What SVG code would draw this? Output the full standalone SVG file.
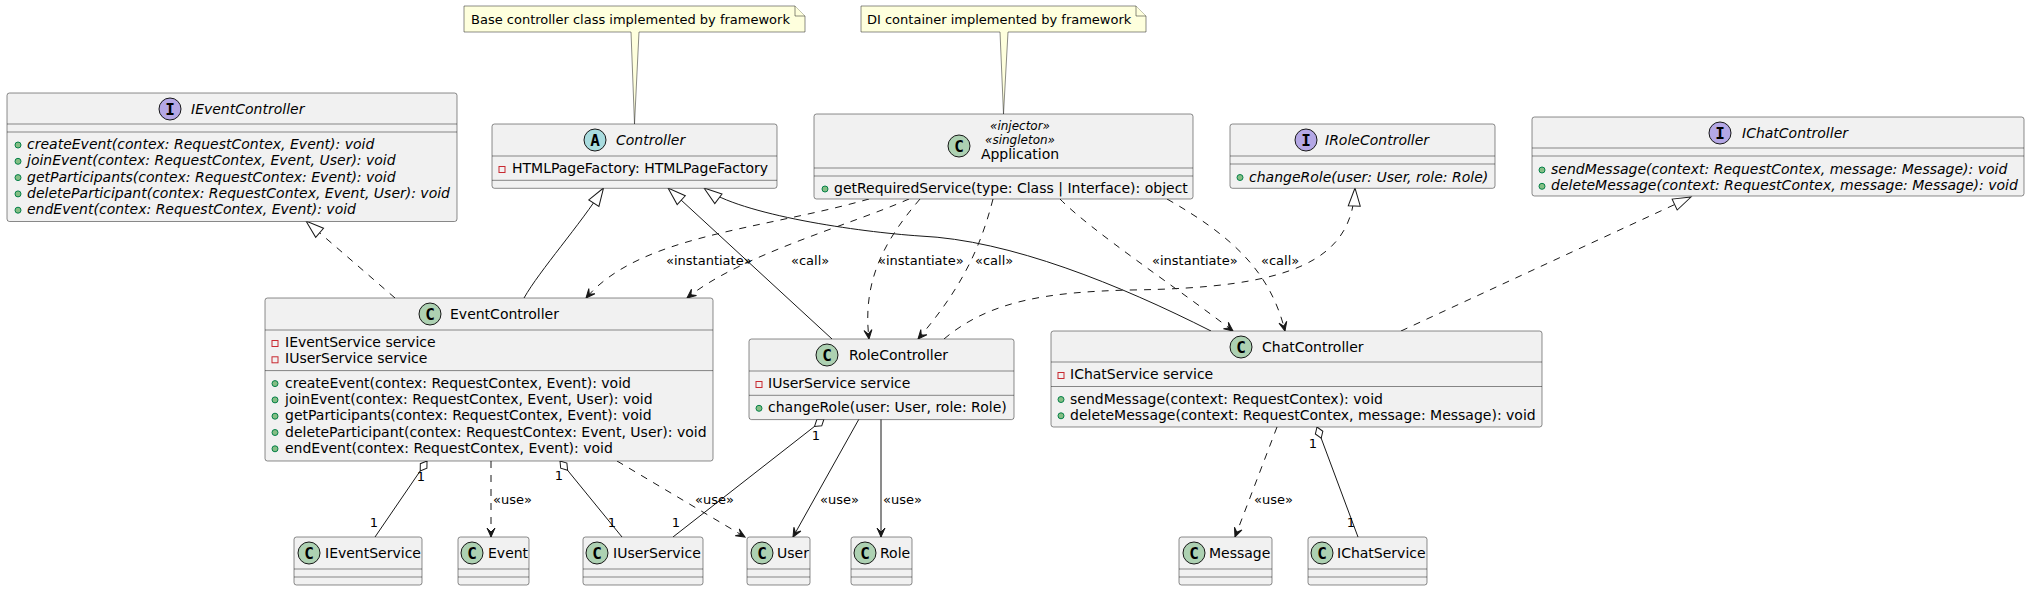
<svg xmlns="http://www.w3.org/2000/svg" width="2029" height="591" viewBox="0 0 2029 591">
<style>
text{font-family:"DejaVu Sans","Liberation Sans",sans-serif;fill:#000000}
.box{fill:#F1F1F1;stroke:#181818;stroke-width:0.5}
.dv{stroke:#181818;stroke-width:0.5}
.nm{font-size:14px}
.it{font-style:italic}
.mem{font-size:14px}
.st{font-size:12px;font-style:italic}
.lbl{font-size:13px}
.one{font-size:13px;text-anchor:middle}
.note{fill:#FEFFDD;stroke:#181818;stroke-width:0.5}
.nt{font-size:13px}
.e{fill:none;stroke:#181818;stroke-width:1}
.d{stroke-dasharray:7,7}
.pub{fill:#84BE84;stroke:#038048;stroke-width:1}
.prv{fill:none;stroke:#C82930;stroke-width:1}
.cc{fill:#ADD1B2;stroke:#181818;stroke-width:1}
.ci{fill:#B4A7E5;stroke:#181818;stroke-width:1}
.ca{fill:#A9DCDF;stroke:#181818;stroke-width:1}
.g{font-family:"DejaVu Sans Mono",monospace;font-weight:bold;font-size:16px;text-anchor:middle}
.ctr{text-anchor:middle}
</style>
<defs>
<marker id="dep" orient="auto" markerUnits="userSpaceOnUse" markerWidth="1" markerHeight="1" style="overflow:visible"><path d="M0,0 L-9,-4 L-5,0 L-9,4 Z" fill="#181818" stroke="#181818" stroke-width="1"/></marker>
<marker id="ext" orient="auto" markerUnits="userSpaceOnUse" markerWidth="1" markerHeight="1" style="overflow:visible"><path d="M0,0 L-18,-6 L-18,6 Z" fill="#FFFFFF" stroke="#181818" stroke-width="1"/></marker>
<marker id="agg" orient="auto" markerUnits="userSpaceOnUse" markerWidth="1" markerHeight="1" style="overflow:visible"><path d="M0,0 L6,-4 L12,0 L6,4 Z" fill="#FFFFFF" stroke="#181818" stroke-width="1"/></marker>
</defs>
<rect width="2029" height="591" fill="#FFFFFF"/>

<g id="connectors">
<path class="e d" d="M395,298 L306,221" marker-end="url(#ext)"/>
<path class="e d" d="M944,339 C990,300 1050,292 1130,290 C1290,288 1352,262 1355,188" marker-end="url(#ext)"/>
<path class="e d" d="M1401,331 L1691,197" marker-end="url(#ext)"/>
<path class="e" d="M524,298 C540,270 580,225 603.5,188" marker-end="url(#ext)"/>
<path class="e" d="M832,339 L668,188" marker-end="url(#ext)"/>
<path class="e" d="M1211,331 C1120,285 1010,240 920,236 C860,232 740,215 704,188" marker-end="url(#ext)"/>
<path class="e d" d="M869,199 C760,230 640,235 586,298" marker-end="url(#dep)"/>
<path class="e d" d="M909,199 C850,225 740,255 687,298" marker-end="url(#dep)"/>
<path class="e d" d="M920,199 C885,240 862,280 869,339" marker-end="url(#dep)"/>
<path class="e d" d="M993,199 C980,250 960,290 918,339" marker-end="url(#dep)"/>
<path class="e d" d="M1060,199 C1090,230 1180,290 1233,331" marker-end="url(#dep)"/>
<path class="e d" d="M1167,199 C1230,235 1270,270 1285,331" marker-end="url(#dep)"/>
<path class="e d" d="M491,461 L491,537" marker-end="url(#dep)"/>
<path class="e d" d="M617,461 L745,537" marker-end="url(#dep)"/>
<path class="e" d="M859,419 L793,537" marker-end="url(#dep)"/>
<path class="e" d="M881,419 L881,537" marker-end="url(#dep)"/>
<path class="e d" d="M1277,427 L1235,537" marker-end="url(#dep)"/>
<path class="e" d="M427,461 L375,537" marker-start="url(#agg)"/>
<path class="e" d="M560,461 L622,537" marker-start="url(#agg)"/>
<path class="e" d="M824,419 L673,537" marker-start="url(#agg)"/>
<path class="e" d="M1317,427 L1358,537" marker-start="url(#agg)"/>
<text class="lbl" x="666" y="264.5">«instantiate»</text>
<text class="lbl" x="791" y="264.5">«call»</text>
<text class="lbl" x="878" y="264.5">«instantiate»</text>
<text class="lbl" x="975" y="264.5">«call»</text>
<text class="lbl" x="1152" y="264.5">«instantiate»</text>
<text class="lbl" x="1261" y="264.5">«call»</text>
<text class="lbl" x="493" y="503.5">«use»</text>
<text class="lbl" x="695" y="503.5">«use»</text>
<text class="lbl" x="820" y="503.5">«use»</text>
<text class="lbl" x="883" y="503.5">«use»</text>
<text class="lbl" x="1254" y="503.5">«use»</text>
<text class="one" x="421" y="480.5">1</text>
<text class="one" x="374" y="526.5">1</text>
<text class="one" x="559" y="479.5">1</text>
<text class="one" x="612" y="526.5">1</text>
<text class="one" x="816" y="439.5">1</text>
<text class="one" x="676" y="526.5">1</text>
<text class="one" x="1313" y="447.5">1</text>
<text class="one" x="1351" y="526.5">1</text>
</g>

<g id="note1">
<path class="note" d="M464,6 L795,6 L805,16 L805,32 L639,32 L634.5,124 L631,32 L464,32 Z"/>
<path class="note" d="M795,6 L795,16 L805,16" fill="none"/>
<text class="nt" x="471" y="23.5">Base controller class implemented by framework</text>
</g>
<g id="note2">
<path class="note" d="M861,6 L1136,6 L1146,16 L1146,32 L1008,32 L1003.5,114 L1000,32 L861,32 Z"/>
<path class="note" d="M1136,6 L1136,16 L1146,16" fill="none"/>
<text class="nt" x="867" y="23.5">DI container implemented by framework</text>
</g>

<g id="IEventController">
<rect class="box" x="7" y="93" width="450" height="128.5" rx="2.5"/>
<line class="dv" x1="7" y1="124" x2="457" y2="124"/>
<line class="dv" x1="7" y1="132" x2="457" y2="132"/>
<circle class="ci" cx="170" cy="109" r="11"/><text class="g" x="170" y="115">I</text>
<text class="nm it" x="191" y="114">IEventController</text>
<circle class="pub" cx="18" cy="145" r="3"/><text class="mem it" x="27" y="149">createEvent(contex: RequestContex, Event): void</text>
<circle class="pub" cx="18" cy="161.3" r="3"/><text class="mem it" x="27" y="165.3">joinEvent(contex: RequestContex, Event, User): void</text>
<circle class="pub" cx="18" cy="177.6" r="3"/><text class="mem it" x="27" y="181.6">getParticipants(contex: RequestContex: Event): void</text>
<circle class="pub" cx="18" cy="193.9" r="3"/><text class="mem it" x="27" y="197.9">deleteParticipant(contex: RequestContex, Event, User): void</text>
<circle class="pub" cx="18" cy="210.2" r="3"/><text class="mem it" x="27" y="214.2">endEvent(contex: RequestContex, Event): void</text>
</g>

<g id="Controller">
<rect class="box" x="492" y="124" width="285" height="64.3" rx="2.5"/>
<line class="dv" x1="492" y1="156" x2="777" y2="156"/>
<line class="dv" x1="492" y1="180.3" x2="777" y2="180.3"/>
<circle class="ca" cx="595" cy="140" r="11"/><text class="g" x="595" y="146">A</text>
<text class="nm it" x="616" y="145">Controller</text>
<rect class="prv" x="499" y="166.5" width="6" height="6"/><text class="mem" x="512" y="173">HTMLPageFactory: HTMLPageFactory</text>
</g>

<g id="Application">
<rect class="box" x="814" y="114" width="379" height="85" rx="2.5"/>
<line class="dv" x1="814" y1="168" x2="1193" y2="168"/>
<line class="dv" x1="814" y1="176" x2="1193" y2="176"/>
<circle class="cc" cx="959" cy="146" r="11"/><text class="g" x="959" y="152">C</text>
<text class="st ctr" x="1020" y="130">«injector»</text>
<text class="st ctr" x="1020" y="143.5">«singleton»</text>
<text class="nm ctr" x="1020" y="159">Application</text>
<circle class="pub" cx="825" cy="189" r="3"/><text class="mem" x="834" y="193">getRequiredService(type: Class | Interface): object</text>
</g>

<g id="IRoleController">
<rect class="box" x="1230" y="124" width="265" height="64.3" rx="2.5"/>
<line class="dv" x1="1230" y1="156" x2="1495" y2="156"/>
<line class="dv" x1="1230" y1="164" x2="1495" y2="164"/>
<circle class="ci" cx="1306" cy="140" r="11"/><text class="g" x="1306" y="146">I</text>
<text class="nm it" x="1325" y="145">IRoleController</text>
<circle class="pub" cx="1240" cy="177.5" r="3"/><text class="mem it" x="1249" y="181.5">changeRole(user: User, role: Role)</text>
</g>

<g id="IChatController">
<rect class="box" x="1532" y="117" width="492" height="79" rx="2.5"/>
<line class="dv" x1="1532" y1="148" x2="2024" y2="148"/>
<line class="dv" x1="1532" y1="156" x2="2024" y2="156"/>
<circle class="ci" cx="1720" cy="133" r="11"/><text class="g" x="1720" y="139">I</text>
<text class="nm it" x="1742" y="138">IChatController</text>
<circle class="pub" cx="1542" cy="170" r="3"/><text class="mem it" x="1551" y="174">sendMessage(context: RequestContex, message: Message): void</text>
<circle class="pub" cx="1542" cy="186.3" r="3"/><text class="mem it" x="1551" y="190.3">deleteMessage(context: RequestContex, message: Message): void</text>
</g>

<g id="EventController">
<rect class="box" x="265" y="298" width="448" height="163" rx="2.5"/>
<line class="dv" x1="265" y1="330" x2="713" y2="330"/>
<line class="dv" x1="265" y1="370.6" x2="713" y2="370.6"/>
<circle class="cc" cx="430" cy="314" r="11"/><text class="g" x="430" y="320">C</text>
<text class="nm" x="450" y="319">EventController</text>
<rect class="prv" x="272" y="340.5" width="6" height="6"/><text class="mem" x="285" y="347">IEventService service</text>
<rect class="prv" x="272" y="356.8" width="6" height="6"/><text class="mem" x="285" y="363.3">IUserService service</text>
<circle class="pub" cx="275" cy="383.6" r="3"/><text class="mem" x="285" y="387.6">createEvent(contex: RequestContex, Event): void</text>
<circle class="pub" cx="275" cy="399.9" r="3"/><text class="mem" x="285" y="403.9">joinEvent(contex: RequestContex, Event, User): void</text>
<circle class="pub" cx="275" cy="416.2" r="3"/><text class="mem" x="285" y="420.2">getParticipants(contex: RequestContex, Event): void</text>
<circle class="pub" cx="275" cy="432.5" r="3"/><text class="mem" x="285" y="436.5">deleteParticipant(contex: RequestContex: Event, User): void</text>
<circle class="pub" cx="275" cy="448.8" r="3"/><text class="mem" x="285" y="452.8">endEvent(contex: RequestContex, Event): void</text>
</g>

<g id="RoleController">
<rect class="box" x="749" y="339" width="265" height="80.6" rx="2.5"/>
<line class="dv" x1="749" y1="371" x2="1014" y2="371"/>
<line class="dv" x1="749" y1="395.3" x2="1014" y2="395.3"/>
<circle class="cc" cx="827" cy="355" r="11"/><text class="g" x="827" y="361">C</text>
<text class="nm" x="849" y="360">RoleController</text>
<rect class="prv" x="756" y="381.5" width="6" height="6"/><text class="mem" x="768" y="388">IUserService service</text>
<circle class="pub" cx="759" cy="408.3" r="3"/><text class="mem" x="768" y="412.3">changeRole(user: User, role: Role)</text>
</g>

<g id="ChatController">
<rect class="box" x="1051" y="331" width="491" height="96" rx="2.5"/>
<line class="dv" x1="1051" y1="362" x2="1542" y2="362"/>
<line class="dv" x1="1051" y1="386.5" x2="1542" y2="386.5"/>
<circle class="cc" cx="1241" cy="347" r="11"/><text class="g" x="1241" y="353">C</text>
<text class="nm" x="1262" y="352">ChatController</text>
<rect class="prv" x="1058" y="372.5" width="6" height="6"/><text class="mem" x="1070" y="379">IChatService service</text>
<circle class="pub" cx="1061" cy="399.5" r="3"/><text class="mem" x="1070" y="403.5">sendMessage(context: RequestContex): void</text>
<circle class="pub" cx="1061" cy="415.8" r="3"/><text class="mem" x="1070" y="419.8">deleteMessage(context: RequestContex, message: Message): void</text>
</g>

<g id="IEventService">
<rect class="box" x="294" y="537" width="128" height="48" rx="2.5"/>
<line class="dv" x1="294" y1="569" x2="422" y2="569"/><line class="dv" x1="294" y1="577" x2="422" y2="577"/>
<circle class="cc" cx="309" cy="553" r="11"/><text class="g" x="309" y="559">C</text>
<text class="nm" x="325" y="558">IEventService</text>
</g>
<g id="Event">
<rect class="box" x="458" y="537" width="71" height="48" rx="2.5"/>
<line class="dv" x1="458" y1="569" x2="529" y2="569"/><line class="dv" x1="458" y1="577" x2="529" y2="577"/>
<circle class="cc" cx="472" cy="553" r="11"/><text class="g" x="472" y="559">C</text>
<text class="nm" x="488" y="558">Event</text>
</g>
<g id="IUserService">
<rect class="box" x="583" y="537" width="120" height="48" rx="2.5"/>
<line class="dv" x1="583" y1="569" x2="703" y2="569"/><line class="dv" x1="583" y1="577" x2="703" y2="577"/>
<circle class="cc" cx="597" cy="553" r="11"/><text class="g" x="597" y="559">C</text>
<text class="nm" x="613" y="558">IUserService</text>
</g>
<g id="User">
<rect class="box" x="747" y="537" width="63" height="48" rx="2.5"/>
<line class="dv" x1="747" y1="569" x2="810" y2="569"/><line class="dv" x1="747" y1="577" x2="810" y2="577"/>
<circle class="cc" cx="762" cy="553" r="11"/><text class="g" x="762" y="559">C</text>
<text class="nm" x="777" y="558">User</text>
</g>
<g id="Role">
<rect class="box" x="851" y="537" width="61" height="48" rx="2.5"/>
<line class="dv" x1="851" y1="569" x2="912" y2="569"/><line class="dv" x1="851" y1="577" x2="912" y2="577"/>
<circle class="cc" cx="865" cy="553" r="11"/><text class="g" x="865" y="559">C</text>
<text class="nm" x="880" y="558">Role</text>
</g>
<g id="Message">
<rect class="box" x="1179" y="537" width="93" height="48" rx="2.5"/>
<line class="dv" x1="1179" y1="569" x2="1272" y2="569"/><line class="dv" x1="1179" y1="577" x2="1272" y2="577"/>
<circle class="cc" cx="1194" cy="553" r="11"/><text class="g" x="1194" y="559">C</text>
<text class="nm" x="1209" y="558">Message</text>
</g>
<g id="IChatService">
<rect class="box" x="1308" y="537" width="119" height="48" rx="2.5"/>
<line class="dv" x1="1308" y1="569" x2="1427" y2="569"/><line class="dv" x1="1308" y1="577" x2="1427" y2="577"/>
<circle class="cc" cx="1322" cy="553" r="11"/><text class="g" x="1322" y="559">C</text>
<text class="nm" x="1337" y="558">IChatService</text>
</g>
</svg>
